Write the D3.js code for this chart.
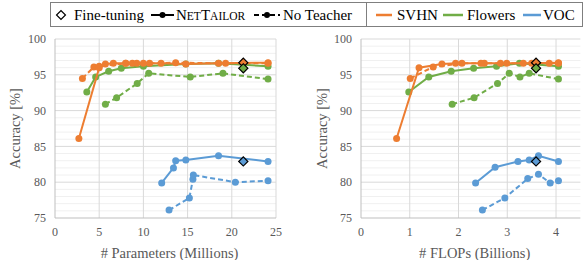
<!DOCTYPE html>
<html><head><meta charset="utf-8">
<script src="https://cdn.jsdelivr.net/npm/d3@7"></script>
<style>body{margin:0;background:#fff}svg{display:block}</style>
</head><body>
<script>
// ---------- DATA ----------
// Left panel: # Parameters (Millions)
const svhnNetParams   = [2.7, 5.0, 5.7, 6.6, 8.0, 8.75, 9.25, 10.0, 12.0, 14.8, 18.5, 24.1];
const svhnNetParamsAcc= [86.1, 96.0, 96.5, 96.6, 96.6, 96.6, 96.6, 96.6, 96.6, 96.5, 96.6, 96.7];
const svhnNoParams    = [3.1, 4.4, 5.0, 8.0, 10.7, 13.65, 19.3, 24.1];
const svhnNoParamsAcc = [94.5, 96.1, 96.2, 96.6, 96.6, 96.7, 96.6, 96.6];
const flwNetParams    = [3.6, 4.6, 6.07, 7.5, 10.0, 14.8, 18.5, 24.1];
const flwNetParamsAcc = [92.6, 94.7, 95.5, 95.9, 96.2, 96.5, 96.6, 96.2];
const flwNoParams     = [5.7, 6.97, 9.3, 10.6, 15.3, 19.0, 24.1];
const flwNoParamsAcc  = [90.9, 91.8, 93.8, 95.2, 94.7, 95.2, 94.4];
const vocNetParams    = [12.07, 13.4, 13.65, 14.8, 18.5, 24.1];
const vocNetParamsAcc = [79.9, 82.0, 83.0, 83.1, 83.7, 82.9];
const vocNoParams     = [12.9, 15.2, 15.6, 15.65, 20.4, 24.1];
const vocNoParamsAcc  = [76.1, 77.8, 80.4, 81.0, 80.0, 80.2];
const ftParams        = [21.3, 21.3, 21.3];
const ftAcc           = [96.7, 95.9, 82.9];

// Right panel: # FLOPs (Billions)
const svhnNetFlops    = [0.73, 1.19, 1.66, 1.94, 2.46, 2.86, 3.33, 4.05];
const svhnNetFlopsAcc = [86.1, 96.0, 96.5, 96.6, 96.6, 96.6, 96.6, 96.7];
const svhnNoFlops     = [1.01, 1.48, 2.07, 2.53, 2.99, 3.5, 3.86, 4.05];
const svhnNoFlopsAcc  = [94.5, 96.1, 96.6, 96.6, 96.6, 96.6, 96.6, 96.6];
const flwNetFlops     = [0.98, 1.39, 1.85, 2.31, 2.78, 3.25, 4.05];
const flwNetFlopsAcc  = [92.6, 94.7, 95.5, 95.9, 96.2, 96.6, 96.2];
const flwNoFlops      = [1.87, 2.32, 2.8, 3.04, 3.26, 3.45, 4.05];
const flwNoFlopsAcc   = [90.9, 91.8, 93.8, 95.2, 94.7, 95.2, 94.4];
const vocNetFlops     = [2.35, 2.75, 3.22, 3.45, 3.64, 4.05];
const vocNetFlopsAcc  = [79.9, 82.1, 82.9, 83.1, 83.7, 82.9];
const vocNoFlops      = [2.49, 2.95, 3.42, 3.64, 3.88, 4.05];
const vocNoFlopsAcc   = [76.1, 77.8, 80.5, 81.1, 79.9, 80.2];
const ftFlops         = [3.59, 3.59, 3.59];
const ftFlopsAcc      = [96.7, 95.9, 82.9];

const datasets = ["SVHN", "Flowers", "VOC"];
const colors = ["#ED7D31", "#70AD47", "#5B9BD5"];
const yTicks = [75, 80, 85, 90, 95, 100];
const xTicksParams = [0, 5, 10, 15, 20, 25];
const xTicksFlops = [0, 1, 2, 3, 4];
const xTitles = ["# Parameters (Millions)", "# FLOPs (Billions)"];
const yTitle = "Accuracy [%]";

// ---------- DRAW ----------
const W = 585, H = 260;
const svg = d3.select("body").append("svg").attr("width", W).attr("height", H);
const serif = "'Liberation Serif','Times New Roman',serif";
const zip = (a, b) => a.map((v, i) => [v, b[i]]);

const panels = [
  { x0: 55, x1: 276, domain: [0, 25], ticks: xTicksParams, title: xTitles[0], ytx: 15,
    net: [zip(svhnNetParams, svhnNetParamsAcc), zip(flwNetParams, flwNetParamsAcc), zip(vocNetParams, vocNetParamsAcc)],
    no:  [zip(svhnNoParams, svhnNoParamsAcc), zip(flwNoParams, flwNoParamsAcc), zip(vocNoParams, vocNoParamsAcc)],
    ft:  zip(ftParams, ftAcc) },
  { x0: 361, x1: 580.4, domain: [0, 4.5], ticks: xTicksFlops, title: xTitles[1], ytx: 322,
    net: [zip(svhnNetFlops, svhnNetFlopsAcc), zip(flwNetFlops, flwNetFlopsAcc), zip(vocNetFlops, vocNetFlopsAcc)],
    no:  [zip(svhnNoFlops, svhnNoFlopsAcc), zip(flwNoFlops, flwNoFlopsAcc), zip(vocNoFlops, vocNoFlopsAcc)],
    ft:  zip(ftFlops, ftFlopsAcc) }
];

const y = d3.scaleLinear().domain([75, 100]).range([218, 39]);

panels.forEach(p => {
  const x = d3.scaleLinear().domain(p.domain).range([p.x0, p.x1]);
  const g = svg.append("g");
  // minor horizontal gridlines
  g.selectAll(".minor").data(d3.range(76, 100).filter(v => v % 5 !== 0)).join("line")
    .attr("x1", p.x0).attr("x2", p.x1).attr("y1", d => y(d)).attr("y2", d => y(d))
    .attr("stroke", "#f0f0f0").attr("stroke-width", 1);
  // major horizontal gridlines
  g.selectAll(".major").data(yTicks.filter(v => v > 75)).join("line")
    .attr("x1", p.x0).attr("x2", p.x1).attr("y1", d => y(d)).attr("y2", d => y(d))
    .attr("stroke", "#d9d9d9").attr("stroke-width", 1);
  // vertical gridlines
  g.selectAll(".vg").data(p.ticks.filter(v => v > 0)).join("line")
    .attr("x1", d => x(d)).attr("x2", d => x(d)).attr("y1", y(100)).attr("y2", y(75))
    .attr("stroke", "#d9d9d9").attr("stroke-width", 1);
  // axes lines
  g.append("line").attr("x1", p.x0).attr("x2", p.x1).attr("y1", y(75)).attr("y2", y(75)).attr("stroke", "#bfbfbf");
  g.append("line").attr("x1", p.x0).attr("x2", p.x0).attr("y1", y(100)).attr("y2", y(75)).attr("stroke", "#bfbfbf");
  // tick labels
  g.selectAll(".yl").data(yTicks).join("text")
    .attr("x", p.x0 - 9).attr("y", d => y(d)).attr("dy", "0.35em").attr("text-anchor", "end")
    .attr("font-family", serif).attr("font-size", 12).attr("fill", "#595959").text(d => d);
  g.selectAll(".xl").data(p.ticks).join("text")
    .attr("x", d => x(d)).attr("y", 232).attr("dy", "0.35em").attr("text-anchor", "middle")
    .attr("font-family", serif).attr("font-size", 12).attr("fill", "#595959").text(d => d);
  // titles
  g.append("text").attr("x", (p.x0 + (p.domain[1] === 25 ? p.x1 : x(4.5))) / 2 + 4).attr("y", 253).attr("dy", "0.35em")
    .attr("text-anchor", "middle").attr("font-family", serif).attr("font-size", 14.5).attr("fill", "#595959").text(p.title);
  g.append("text").attr("transform", `translate(${p.ytx},${y(87.5)}) rotate(-90)`).attr("dy", "0.35em")
    .attr("text-anchor", "middle").attr("font-family", serif).attr("font-size", 14.5).attr("fill", "#595959").text(yTitle);

  const line = d3.line().x(d => x(d[0])).y(d => y(d[1]));
  // draw order: VOC, Flowers, SVHN
  [2, 1, 0].forEach(i => {
    g.append("path").datum(p.no[i]).attr("d", line).attr("fill", "none")
      .attr("stroke", colors[i]).attr("stroke-width", 2).attr("stroke-dasharray", "5,3");
    g.selectAll(null).data(p.no[i]).join("circle")
      .attr("cx", d => x(d[0])).attr("cy", d => y(d[1])).attr("r", 3.5).attr("fill", colors[i]);
    g.append("path").datum(p.net[i]).attr("d", line).attr("fill", "none")
      .attr("stroke", colors[i]).attr("stroke-width", 2);
    g.selectAll(null).data(p.net[i]).join("circle")
      .attr("cx", d => x(d[0])).attr("cy", d => y(d[1])).attr("r", 3.5).attr("fill", colors[i]);
  });
  // fine-tuning diamonds
  const dia = d3.symbol().type(d3.symbolDiamond2 || d3.symbolDiamond).size(60);
  g.selectAll(null).data(p.ft.map((d, i) => ({ d, i }))).join("path")
    .attr("d", d3.symbol().type(d3.symbolSquare).size(42))
    .attr("transform", o => `translate(${x(o.d[0])},${y(o.d[1])}) rotate(45)`)
    .attr("fill", o => colors[o.i]).attr("stroke", "#000").attr("stroke-width", 1.2);
});

// ---------- LEGEND ----------
const lg = svg.append("g");
lg.append("rect").attr("x", 50.5).attr("y", 2.5).attr("width", 532).attr("height", 24)
  .attr("fill", "#fff").attr("stroke", "#7f7f7f").attr("stroke-width", 1);
lg.append("line").attr("x1", 366.5).attr("x2", 366.5).attr("y1", 2.5).attr("y2", 26.5).attr("stroke", "#7f7f7f");
const ly = 15;
const tx = (x, s) => lg.append("text").attr("x", x).attr("y", ly).attr("dy", "0.35em")
  .attr("font-family", serif).attr("font-size", 15).attr("fill", "#000").text(s);
// diamond
lg.append("path").attr("d", d3.symbol().type(d3.symbolSquare).size(40))
  .attr("transform", `translate(61,${ly}) rotate(45)`).attr("fill", "#fff").attr("stroke", "#000").attr("stroke-width", 1.2);
tx(74, "Fine-tuning");
lg.append("line").attr("x1", 151).attr("x2", 174).attr("y1", ly).attr("y2", ly).attr("stroke", "#000").attr("stroke-width", 2);
lg.append("circle").attr("cx", 162.5).attr("cy", ly).attr("r", 3).attr("fill", "#000");
const nt = lg.append("text").attr("x", 176).attr("y", ly).attr("dy", "0.35em")
  .attr("font-family", serif).attr("font-size", 15).attr("fill", "#000");
nt.append("tspan").text("N");
nt.append("tspan").attr("font-size", 11.5).text("ET");
nt.append("tspan").text("T");
nt.append("tspan").attr("font-size", 11.5).text("AILOR");
lg.append("line").attr("x1", 254).attr("x2", 280).attr("y1", ly).attr("y2", ly).attr("stroke", "#000").attr("stroke-width", 2).attr("stroke-dasharray", "5,3");
lg.append("circle").attr("cx", 267).attr("cy", ly).attr("r", 3).attr("fill", "#000");
tx(283, "No Teacher");
const items = [[376, 392, 397], [443, 463, 467], [523, 541, 543]];
datasets.forEach((d, i) => {
  lg.append("line").attr("x1", items[i][0]).attr("x2", items[i][1]).attr("y1", ly).attr("y2", ly)
    .attr("stroke", colors[i]).attr("stroke-width", 2.5);
  tx(items[i][2], d);
});
</script>
</body></html>
